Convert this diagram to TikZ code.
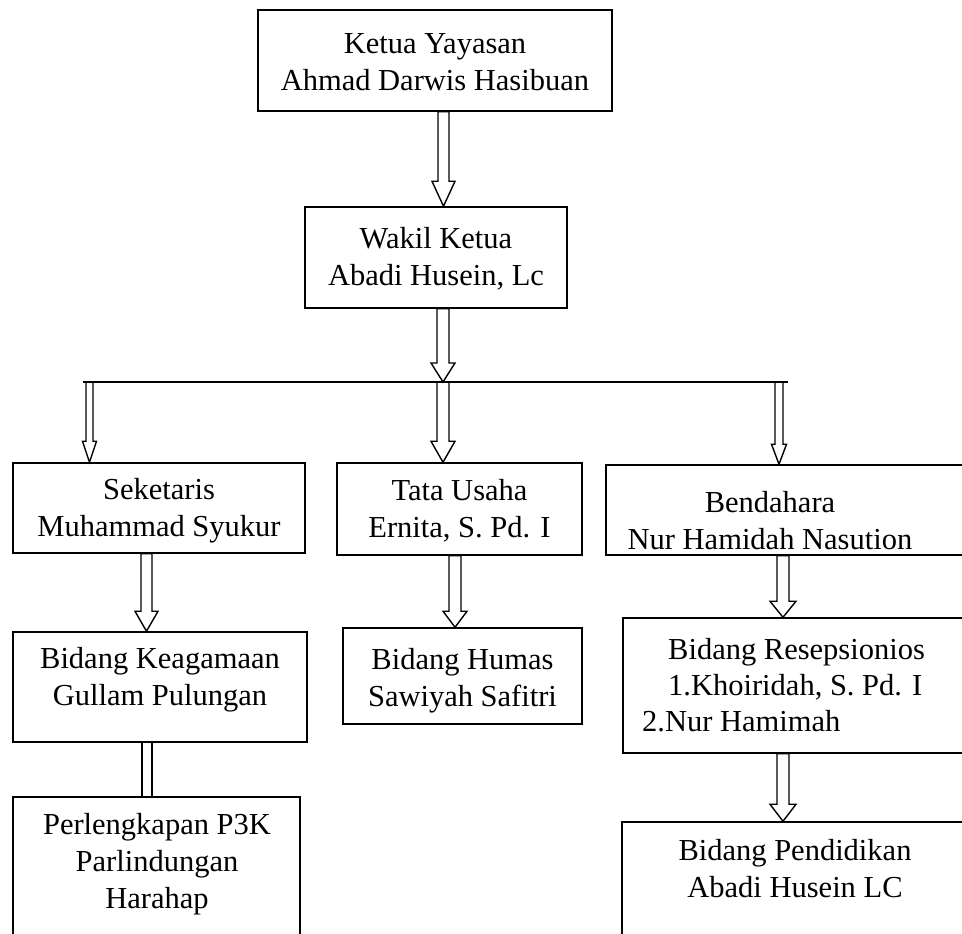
\documentclass[tikz,border=0pt]{standalone}
\usepackage{fontspec}
\setmainfont{Liberation Serif}
\usetikzlibrary{calc}
\begin{document}
\begin{tikzpicture}[x=1pt,y=-1pt,
  box/.style={draw, line width=1.5pt, rectangle, inner sep=0pt, align=center,
    font=\fontsize{30.5}{37}\selectfont},
  txt/.style={font=\fontsize{30.5}{37}\selectfont, align=center, inner sep=0pt},
  barrow/.style n args={3}{draw, line width=1.4pt, line join=miter, to path={
     let \p1=(\tikztostart), \p2=(\tikztotarget) in
     (\x1-#1pt,\y1) -- (\x1-#1pt,\y2+#3pt) -- (\x1-#2pt,\y2+#3pt) -- (\x1,\y2)
     -- (\x1+#2pt,\y2+#3pt) -- (\x1+#1pt,\y2+#3pt) -- (\x1+#1pt,\y1) -- cycle}},
  hline/.style={draw, line width=1.4pt}
]
\useasboundingbox (0,0) rectangle (962,934);

% boxes
\node[box, minimum width=354pt, minimum height=101pt] (ketua) at (435,60.5) {};
\node[box, minimum width=262pt, minimum height=101pt] (wakil) at (436,257.5) {};
\node[box, minimum width=292pt, minimum height=90pt] (seket) at (159,508) {};
\node[box, minimum width=245pt, minimum height=92pt] (tata) at (459.5,509) {};
\node[box, minimum width=369pt, minimum height=90pt] (bend) at (790.5,510) {};
\node[box, minimum width=294pt, minimum height=110pt] (keag) at (160,687) {};
\node[box, minimum width=239pt, minimum height=96pt] (humas) at (462.5,676) {};
\node[box, minimum width=352pt, minimum height=135pt] (resep) at (799,685.5) {};
\node[box, minimum width=287pt, minimum height=153pt] (perl) at (156.5,873.5) {};
\node[box, minimum width=353pt, minimum height=128pt] (pend) at (798.5,886) {};

% texts
\node[txt] (ketuaT) at (435,62.5) {Ketua Yayasan\\Ahmad Darwis Hasibuan};
\node[txt] (wakilT) at (436,259) {Wakil Ketua\\Abadi Husein, Lc};
\node[txt] (seketT) at (159,511) {Seketaris\\Muhammad Syukur};
\node[txt] (tataT) at (459.5,511) {Tata Usaha\\Ernita, S. Pd. I};
\node[txt] (bendT) at (770,521) {Bendahara\\Nur Hamidah Nasution};
\node[txt] (keagT) at (160,680) {Bidang Keagamaan\\Gullam Pulungan};
\node[txt] (humasT) at (462.5,681) {Bidang Humas\\Sawiyah Safitri};
\node[txt, anchor=base west] (resT1) at (668,659) {Bidang Resepsionios};
\node[txt, anchor=base west] (resT2) at (668,695) {1.Khoiridah, S. Pd. I};
\node[txt, anchor=base west] (resT3) at (642,731) {2.Nur Hamimah};
\node[txt] (perlT) at (157,864) {Perlengkapan P3K\\Parlindungan\\Harahap};
\node[txt] (pendT) at (795,869) {Bidang Pendidikan\\Abadi Husein LC};

% horizontal distribution line
\coordinate (hl) at (83,382);
\coordinate (hr) at (788,382);
\draw[hline] (hl) -- (hr);

% arrow x positions
\coordinate (x1) at (443.5,0);
\coordinate (x2) at (443,0);
\coordinate (xL) at (89.5,0);
\coordinate (xR) at (779,0);
\coordinate (x4) at (146.5,0);
\coordinate (x5) at (455,0);
\coordinate (x6) at (783,0);
\coordinate (x7a) at (142,0);
\coordinate (x7b) at (152,0);

% arrows
\draw[barrow={5.5}{11.5}{25}] (ketua.south -| x1) to (wakil.north -| x1);
\draw[barrow={6}{12}{19}] (wakil.south -| x2) to (hl -| x2);
\draw[barrow={6}{12}{21}] (hl -| x2) to (tata.north -| x2);
\draw[barrow={3.5}{7}{21}] (hl -| xL) to (seket.north -| xL);
\draw[barrow={4}{7.5}{20}] (hl -| xR) to (bend.north -| xR);
\draw[barrow={5.5}{11.5}{20}] (seket.south -| x4) to (keag.north -| x4);
\draw[barrow={6}{12}{16}] (tata.south -| x5) to (humas.north -| x5);
\draw[barrow={6}{13}{16}] (bend.south -| x6) to (resep.north -| x6);
\draw[line width=1.4pt] (keag.south -| x7a) rectangle (perl.north -| x7b);
\draw[barrow={6}{13}{17}] (resep.south -| x6) to (pend.north -| x6);
\end{tikzpicture}
\end{document}
